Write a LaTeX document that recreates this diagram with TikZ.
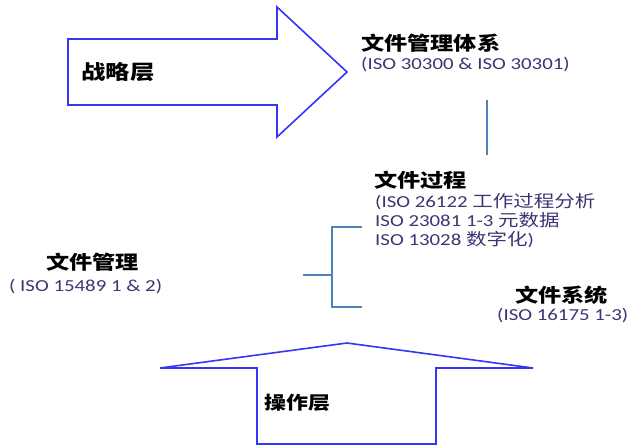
\documentclass[tikz,border=0pt]{standalone}
\usepackage{fontspec}
\setmainfont[FakeStretch=1.24]{Carlito}
\newfontfamily\cjk[FakeStretch=1.22]{Noto Sans CJK SC}
\definecolor{arrowblue}{HTML}{3535F5}
\definecolor{linkblue}{HTML}{4F81BD}
\definecolor{subtxt}{HTML}{3B3572}
\tikzset{
  bigarrow/.style={draw=arrowblue, line width=1.6pt, fill=white, line join=miter},
  head/.style={anchor=west, inner sep=0pt, font=\cjk\bfseries\fontsize{19}{21}\selectfont, text=black},
  sub/.style={anchor=west, inner sep=0pt, font=\fontsize{16.8}{19}\selectfont, text=subtxt},
  link/.style={draw=linkblue, line width=1.3pt}
}
\begin{document}
\begin{tikzpicture}[x=1pt,y=-1pt]
\useasboundingbox (0,0) rectangle (632,445);
% strategic arrow
\draw[bigarrow] (68,39) -- (277,39) -- (277,7) -- (347,72) -- (277,137) -- (277,105) -- (68,105) -- cycle;
\node[head, font=\cjk\bfseries\fontsize{20}{22}\selectfont] (strat) at (81,72) {战略层};
% operational arrow
\draw[bigarrow] (160,368) -- (347,343) -- (533,368) -- (436,368) -- (436,444) -- (257,444) -- (257,368) -- cycle;
\node[head, font=\cjk\bfseries\fontsize{18}{20}\selectfont] (oper) at (264,403) {操作层};
% texts
\node[head] (sys) at (361,43) {文件管理体系};
\node[sub] (sysiso) at (361,65) {(ISO 30300 \& ISO 30301)};
\node[head] (proc) at (374,180) {文件过程};
\node[sub, align=left, anchor=north west] (prociso) at (375,193)
  {(ISO 26122 {\cjk 工作过程分析}\\ISO 23081 1-3 {\cjk 元数据}\\ISO 13028 {\cjk 数字化})};
\node[head] (rsys) at (515,295) {文件系统};
\node[sub] (rsysiso) at (497,316) {(ISO 16175 1-3)};
\node[head] (rm) at (46,262) {文件管理};
\node[sub] (rmiso) at (9,287) {( ISO 15489 1 \& 2)};
% connectors
\coordinate (v1) at (487,100);
\coordinate (v2) at (487,155);
\draw[link] (v1) -- (v2);
\coordinate (bl) at (303,275);
\coordinate (bm) at (332,275);
\coordinate (bt) at (362,227);
\coordinate (bb) at (362,307);
\draw[link] (bl) -- (bm);
\draw[link] (bt) -| (bm) |- (bb);
\end{tikzpicture}
\end{document}
